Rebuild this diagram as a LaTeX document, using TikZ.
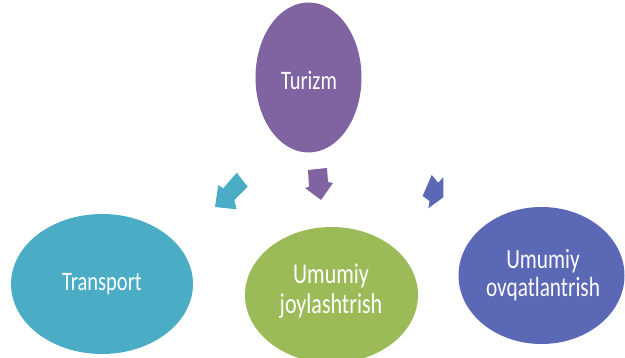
\documentclass[tikz,border=0pt]{standalone}
\usepackage{fontspec}
\setmainfont{Carlito}
\definecolor{cpurple}{HTML}{8064A2}
\definecolor{ccyan}{HTML}{4BACC6}
\definecolor{cgreen}{HTML}{9BBB59}
\definecolor{cblue}{HTML}{5A68B5}
\newcommand{\tallone}[1]{\scalebox{1}[1.3]{#1}}
\newcommand{\talltwo}[2]{\scalebox{1}[1.3]{\begin{tabular}[t]{@{}c@{}}#1\\#2\end{tabular}}}
\begin{document}
\begin{tikzpicture}[x=1pt,y=-1pt,
  blob/.style={draw=none, text=white, align=center, inner sep=0pt, anchor=base}]
\useasboundingbox (0,0) rectangle (625,358);
\clip (0,0) rectangle (625,358);
% ellipses
\fill[cpurple] (308.5,77.5) ellipse [x radius=53, y radius=75];
\fill[ccyan] (102,284) ellipse [x radius=91, y radius=70];
\fill[cgreen] (331.5,295) ellipse [x radius=86.5, y radius=68];
\fill[cblue] (541.5,275.5) ellipse [x radius=83, y radius=68.5];
% texts
\node[blob, font=\fontsize{20.5}{24}\selectfont] (turizm) at (309,90) {\tallone{Turizm}};
\node[blob, font=\fontsize{20.5}{24}\selectfont] (transport) at (102,290.5) {\tallone{Transport}};
\node[blob, font=\fontsize{22}{23}\selectfont] (joy) at (331,283.3) {\talltwo{Umumiy}{joylashtrish}};
\node[blob, font=\fontsize{21.3}{21.8}\selectfont] (ovq) at (543,268.3) {\talltwo{Umumiy}{ovqatlantrish}};
% block arrows
\fill[ccyan] (236.7,172.7) -- (247.7,186.7) -- (234.3,200) -- (236.7,209.3) -- (215,207) -- (218.3,185) -- (223.3,188.3) -- cycle;
\fill[cpurple] (308,170) -- (327,168) -- (328,182) -- (333,183) -- (321,200) -- (305,188) -- (309,187) -- cycle;
\fill[cblue] (431.7,175) -- (438.3,182.7) -- (443.3,177.3) -- (443.3,197.3) -- (428.3,208.3) -- (429.5,201) -- (422.7,196) -- cycle;
\end{tikzpicture}
\end{document}
